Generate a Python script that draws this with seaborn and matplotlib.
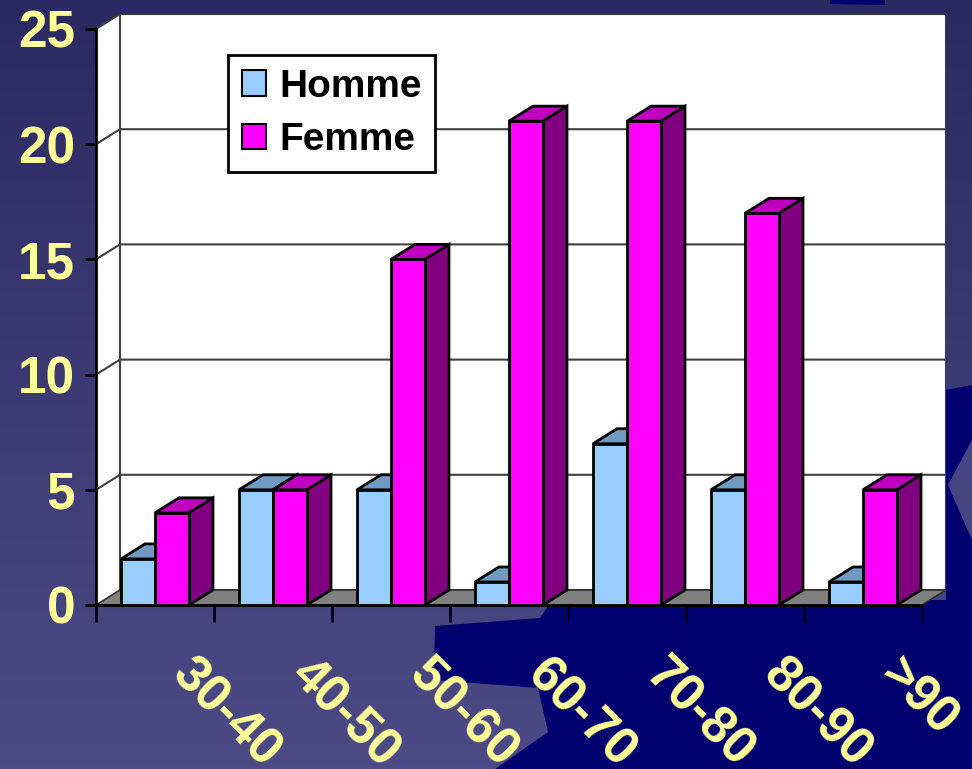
import numpy as np
import pandas as pd
import matplotlib.pyplot as plt
import seaborn as sns
from matplotlib.patches import Polygon, Patch, Rectangle

ages = ['30-40', '40-50', '50-60', '60-70', '70-80', '80-90', '>90']
homme = [2, 5, 5, 1, 7, 5, 1]
femme = [4, 5, 15, 21, 21, 17, 5]
series = ['Homme', 'Femme']
y_ticks = [0, 5, 10, 15, 20, 25]

front_colors = ['#99CCFF', '#FF00FF']
top_colors = ['#6F9AC2', '#C000C0']
side_colors = ['#4C6F91', '#800080']
label_color = '#FFFF99'

df = pd.DataFrame({
    'age': ages * 2,
    'count': homme + femme,
    'sexe': ['Homme'] * len(ages) + ['Femme'] * len(ages),
})

plt.rcParams['font.family'] = ['Liberation Sans', 'DejaVu Sans']
plt.rcParams['font.weight'] = 'bold'

W, H = 972, 769
fig = plt.figure(figsize=(W / 100, H / 100), dpi=100)

# slide background: gradient + decorative shapes (pixel coords)
bg = fig.add_axes([0, 0, 1, 1])
grad = np.linspace(0, 1, 256)[:, None, None]
c_top = np.array([42, 41, 97]) / 255
c_bot = np.array([76, 75, 134]) / 255
bg.imshow(c_top + grad * (c_bot - c_top), extent=[0, W, H, 0], aspect='auto')
navy = '#00006E'
bg.add_patch(Polygon([(435, 626), (540, 618), (552, 600), (946, 600), (946, 390),
                      (972, 385), (972, 769), (495, 769), (548, 732), (538, 688),
                      (434, 680)], fc=navy, ec='none'))
bg.add_patch(Polygon([(948, 485), (972, 440), (972, 540)], fc='#46457F', ec='none'))
bg.add_patch(Polygon([(830, 0), (885, 0), (885, 5), (830, 4)], fc=navy, ec='none'))
bg.set_xlim(0, W)
bg.set_ylim(H, 0)
bg.axis('off')

# chart area: front plane 96..922 px wide, 0 at y=605, 25 at y=29
dx = 24 / 118
dy = 15 / 23.04
ax = fig.add_axes([96 / W, (H - 605) / H, 850 / W, 591 / H])
ax.patch.set_alpha(0)

lw = 2
sns.barplot(data=df, x='age', y='count', hue='sexe', order=ages, hue_order=series,
            palette=front_colors, saturation=1, width=0.576, edgecolor='black',
            linewidth=lw, legend=False, ax=ax)

n = len(ages)
ax.set_xlim(-0.5, n - 0.5 + dx)
ax.set_ylim(0, y_ticks[-1] + dy)
ax.set_xlabel('')
ax.set_ylabel('')

# walls and floor
ymax = y_ticks[-1]
ax.add_patch(Polygon([(-0.5, 0), (-0.5 + dx, dy), (-0.5 + dx, ymax + dy), (-0.5, ymax)],
                     fc='white', ec='none', zorder=0.5))
ax.add_patch(Rectangle((-0.5 + dx, dy), n, ymax, fc='white', ec='#404040', lw=1.5, zorder=0.6))
for v in y_ticks[1:]:
    ax.plot([-0.5, -0.5 + dx, n - 0.5 + dx], [v, v + dy, v + dy], color='#404040', lw=1.5,
            zorder=0.8, solid_capstyle='butt')
ax.add_patch(Polygon([(-0.5, 0), (n - 0.5, 0), (n - 0.5 + dx, dy), (-0.5 + dx, dy)],
                     fc='#808080', ec='#303030', lw=1.2, zorder=0.9))

# 3D faces on the bars
for i, cont in enumerate(ax.containers):
    for bar in cont:
        x0, w, h = bar.get_x(), bar.get_width(), bar.get_height()
        bar.set_zorder(3.05 + i)
        bar.set_joinstyle('miter')
        ax.add_patch(Polygon([(x0, h), (x0 + dx, h + dy), (x0 + w + dx, h + dy), (x0 + w, h)],
                             fc=top_colors[i], ec='black', lw=lw, zorder=3 + i))
        ax.add_patch(Polygon([(x0 + w, 0), (x0 + w, h), (x0 + w + dx, h + dy), (x0 + w + dx, dy)],
                             fc=side_colors[i], ec='black', lw=lw, zorder=3 + i))

# axes
for s in ['top', 'right']:
    ax.spines[s].set_visible(False)
ax.spines['left'].set_bounds(0, ymax)
ax.spines['bottom'].set_bounds(-0.5, n - 0.5)
for s in ['left', 'bottom']:
    ax.spines[s].set_linewidth(2)
    ax.spines[s].set_color('black')
    ax.spines[s].set_zorder(2)

ax.set_yticks(y_ticks)
ax.tick_params(axis='y', length=8, width=2, direction='out', labelsize=37,
               labelcolor=label_color, pad=7)
ax.set_xticks(np.arange(n + 1) - 0.5, labels=[''] * (n + 1))
ax.tick_params(axis='x', length=12, width=2, direction='out')

for i, lab in enumerate(ages):
    ax.text(i + 0.36, -1.95, lab, rotation=-45, rotation_mode='anchor', ha='left',
            va='top', fontsize=37, color=label_color, fontweight='bold', clip_on=False)

handles = [Patch(fc=c, ec='black', lw=1.5) for c in front_colors]
leg = fig.legend(handles, series, loc='upper left', bbox_to_anchor=(228 / W, 1 - 55 / H),
                 frameon=True, fancybox=False, edgecolor='black', framealpha=1,
                 fontsize=28, handlelength=0.62, handleheight=0.62, handletextpad=0.35,
                 labelspacing=0.45, borderpad=0.35, borderaxespad=0)
leg.get_frame().set_linewidth(2)

fig.savefig('out.png', dpi=100)
